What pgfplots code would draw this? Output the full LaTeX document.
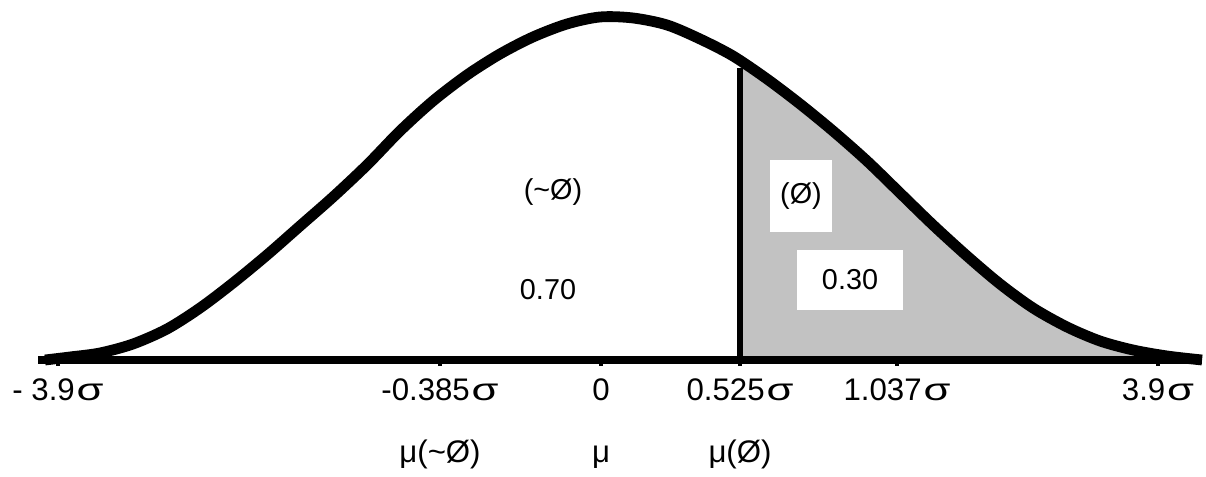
\documentclass[border=0pt]{standalone}
\usepackage{fontspec}
\setmainfont{Liberation Sans}
\usepackage{graphicx}
\usepackage{pgfplots}
\pgfplotsset{compat=1.18}

% wide sigma as in the original figure
\newcommand\sig{\kern0.06em\scalebox{1.4}[1]{σ}}

% curve: x in pixels, y = height above the base line
\pgfplotstableread{
x     y
45    0
70    3
100   7
133   16
167   31
200   52
233   77
267   105
300   134
333   163
367   195
400   229
433   259
467   285
500   306
533   323
567   336
600   343
633   342
667   335
700   321
733   304
767   281
800   256
833   229
867   199
900   167
933   135
967   104
1000  76
1033  52
1067  33
1100  19
1133  10
1167  4
1202  0
}\curve

\pgfplotstableread{
x     y
740   0
740   299
767   281
800   256
833   229
867   199
900   167
933   135
967   104
1000  76
1033  52
1067  33
1100  19
1133  10
1167  4
1202  0
}\tail

\begin{document}
\begin{tikzpicture}
\begin{axis}[
    x=0.25pt, y=0.25pt,
    xmin=0, xmax=1206, ymin=0, ymax=360,
    axis x line=bottom, axis y line=none,
    x axis line style={draw=none},
    clip=false,
    xtick={58,440,601,740,897,1158},
    xticklabels={- 3.9\sig, -0.385\sig\\μ(\textasciitilde Ø), 0\\μ, 0.525\sig\\μ(Ø), 1.037\sig, 3.9\sig},
    tick align=outside,
    major tick length=1.4pt,
    xtick style={line width=0.9pt, black},
    xticklabel style={align=center, anchor=north, font=\fontsize{7.8}{15.5}\selectfont, inner sep=0pt, yshift=-3pt},
]
\addplot[draw=none, fill=black!24] table {\tail} -- cycle;
\addplot[line width=2pt] coordinates {(38,0) (1202,0)};
\addplot[line width=1.6pt] coordinates {(740,0) (740,292)};
\addplot[line width=2.7pt, smooth] table {\curve};

\node[font=\fontsize{7.2}{7.2}\selectfont] at (axis cs:553,168) {(\textasciitilde Ø)};
\node[font=\fontsize{7.2}{7.2}\selectfont] at (axis cs:548,70) {0.70};
\node[fill=white, minimum width=15.5pt, minimum height=18pt, inner sep=0pt,
      font=\fontsize{7.2}{7.2}\selectfont] at (axis cs:801,164) {(Ø)};
\node[fill=white, minimum width=26.5pt, minimum height=15pt, inner sep=0pt,
      font=\fontsize{7.2}{7.2}\selectfont] at (axis cs:850,80) {0.30};

\coordinate (bbsw) at (axis cs:0,-117);
\coordinate (bbne) at (axis cs:1206,360);
\end{axis}
\pgfresetboundingbox
\path[use as bounding box] (bbsw) rectangle (bbne);
\end{tikzpicture}
\end{document}
